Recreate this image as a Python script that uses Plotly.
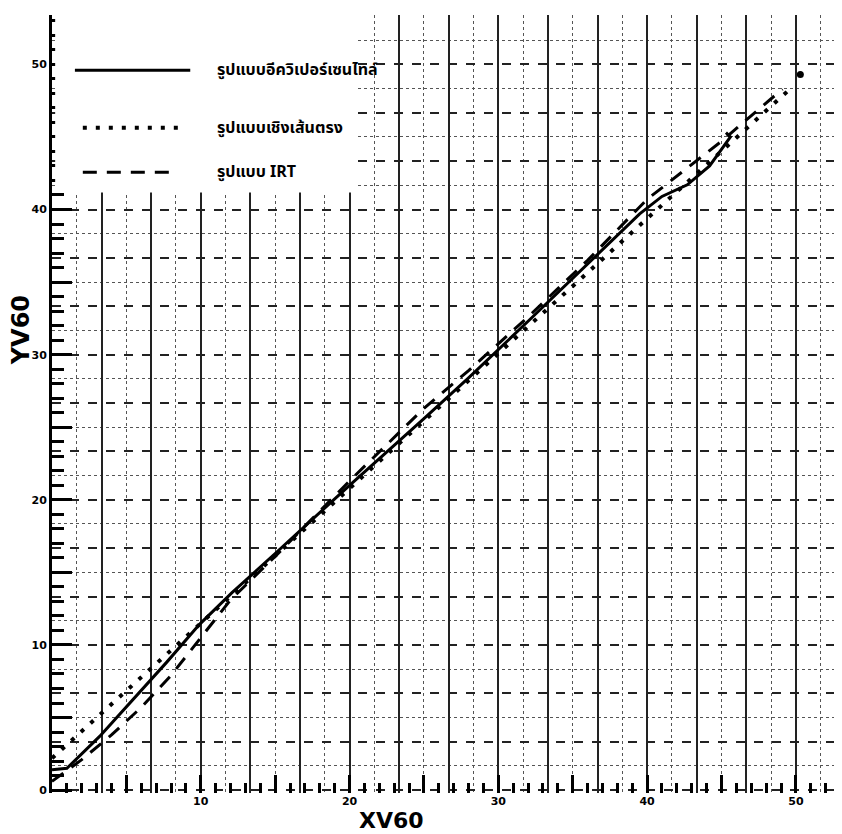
import plotly.graph_objects as go

# ---- data ----
equi_x = [0, 1.0, 3.2, 5.4, 7.7, 9.9, 12.1, 15, 20, 25, 28, 32, 36.8, 39.5, 41.0, 42.7, 44.2, 45.1, 45.6, 45.3]
equi_y = [1.4, 1.5, 3.7, 6.2, 8.8, 11.4, 13.6, 16.3, 21.0, 25.6, 28.4, 32.3, 37.0, 39.7, 40.9, 41.7, 43.0, 44.3, 45.0, 45.3]

lin_x = [0, 10, 20, 30, 40, 49.5]
lin_y = [2.2, 11.5, 20.8, 30.1, 39.4, 48.2]

irt_x = [0, 2, 4, 6, 8, 10, 12, 15, 20, 25, 28, 32, 36, 40, 42.5, 45, 47.5, 49.1]
irt_y = [0.6, 2.1, 3.8, 5.7, 7.9, 10.5, 13.1, 16.1, 21.3, 26.3, 28.9, 32.6, 36.5, 40.7, 42.7, 44.7, 46.9, 48.3]

stray_x = [50.3]
stray_y = [49.3]

names = ["รูปแบบอีควิเปอร์เซนไทล์", "รูปแบบเชิงเส้นตรง", "รูปแบบ IRT"]
tick_vals = [0, 5, 10, 15, 20, 25, 30, 35, 40, 45, 50]
x_tick_text = ["", "", "10", "", "20", "", "30", "", "40", "", "50"]
y_tick_text = ["0", "", "10", "", "20", "", "30", "", "40", "", "50"]

XR = [0, 53.1]
YR = [-0.2, 53.4]

SOLID = dict(color="black", width=3)
DOTTED = dict(color="black", width=4, dash="4px,9px")
DASHED = dict(color="black", width=3, dash="14px,10px")

fig = go.Figure()
fig.add_trace(go.Scatter(x=equi_x, y=equi_y, mode="lines", name=names[0], line=SOLID))
fig.add_trace(go.Scatter(x=lin_x, y=lin_y, mode="lines", name=names[1], line=DOTTED))
fig.add_trace(go.Scatter(x=irt_x, y=irt_y, mode="lines", name=names[2], line=DASHED))
fig.add_trace(go.Scatter(x=stray_x, y=stray_y, mode="markers", showlegend=False,
                         marker=dict(color="black", size=7)))
# invisible trace so the graph-paper overlay axes are drawn
fig.add_trace(go.Scatter(x=[XR[0]], y=[YR[0]], xaxis="x2", yaxis="y2", mode="markers",
                         marker=dict(opacity=0), showlegend=False, hoverinfo="skip"))

tickfont = dict(family="DejaVu Sans", size=11, color="black", weight="bold")
thai_font = dict(family="Noto Sans Thai, Noto Sans, DejaVu Sans, sans-serif",
                 size=16, color="black", weight="bold")
title_font = dict(family="DejaVu Sans", size=22, color="black", weight="bold")

# hand-drawn style legend box (paper coordinates)
legend_rows = [(0.929, 0.029, 0.175, SOLID), (0.855, 0.039, 0.162, DOTTED), (0.798, 0.039, 0.159, DASHED)]
shapes = [dict(type="rect", xref="paper", yref="paper", x0=0.004, x1=0.385, y0=0.772, y1=1.0,
               fillcolor="white", line=dict(width=0), layer="above")]
annotations = []
for (yy, xa, xb, st), nm in zip(legend_rows, names):
    shapes.append(dict(type="line", xref="paper", yref="paper", x0=xa, x1=xb, y0=yy, y1=yy,
                       line=st, layer="above"))
    annotations.append(dict(text=nm, xref="paper", yref="paper", x=0.206, y=yy, xanchor="left",
                            yanchor="middle", showarrow=False, font=thai_font))

annotations += [
    dict(text="XV60", xref="paper", yref="paper", x=0.43, y=-0.035, xanchor="center",
         yanchor="middle", showarrow=False, font=title_font),
    dict(text="YV60", xref="paper", yref="paper", x=-0.039, y=0.595, xanchor="center",
         yanchor="middle", textangle=-90, showarrow=False,
         font=dict(family="DejaVu Sans", size=24, color="black", weight="bold")),
]

fig.update_layout(
    width=834, height=826,
    margin=dict(l=44, r=0, t=7, b=41),
    paper_bgcolor="white", plot_bgcolor="white",
    showlegend=False,
    xaxis=dict(range=XR, tickvals=tick_vals, ticktext=x_tick_text, ticks="inside",
               ticklen=18, tickwidth=2.5, tickcolor="black", showgrid=False, zeroline=False,
               showline=False, tickfont=tickfont,
               minor=dict(dtick=1, tick0=0, ticks="inside", ticklen=10, tickwidth=2.5,
                          tickcolor="black", showgrid=False)),
    yaxis=dict(range=YR, tickvals=tick_vals, ticktext=y_tick_text, ticks="inside",
               ticklen=20, tickwidth=2.5, tickcolor="black", showgrid=False, zeroline=False,
               showline=True, linewidth=3, linecolor="black", tickfont=tickfont,
               minor=dict(dtick=1, tick0=0, ticks="inside", ticklen=12, tickwidth=2.5,
                          tickcolor="black", showgrid=False)),
    xaxis2=dict(overlaying="x", range=XR, tick0=0, dtick=10/3, showgrid=True,
                gridcolor="#222222", gridwidth=1.8, showticklabels=False, ticks="",
                zeroline=False, showline=False,
                minor=dict(tick0=0, dtick=10/6, showgrid=True, gridcolor="#555555",
                           gridwidth=1.3, griddash="dot")),
    yaxis2=dict(overlaying="y", range=YR, tick0=0, dtick=10/3, showgrid=True,
                gridcolor="#222222", gridwidth=1.8, griddash="dash", showticklabels=False,
                ticks="", zeroline=False, showline=False,
                minor=dict(tick0=0, dtick=10/6, showgrid=True, gridcolor="#555555",
                           gridwidth=1.3, griddash="dot")),
    shapes=shapes,
    annotations=annotations,
)

fig.write_html("out.html")
